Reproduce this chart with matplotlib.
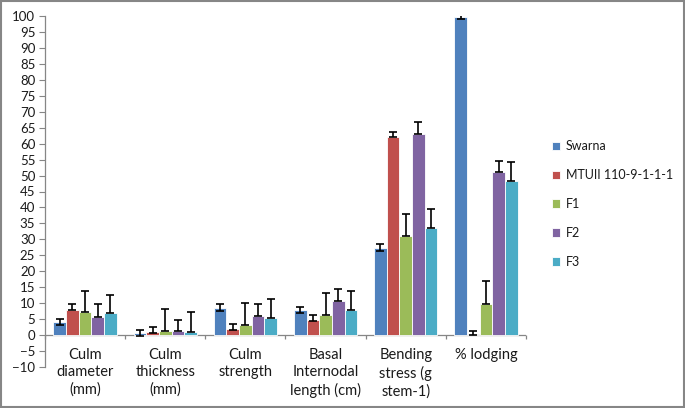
import numpy as np
import matplotlib
matplotlib.use("Agg")
import matplotlib.pyplot as plt
from matplotlib.patches import Rectangle

plt.rcParams['font.family'] = ['Lato', 'DejaVu Sans']

categories = ["Culm\ndiameter\n(mm)", "Culm\nthickness\n(mm)", "Culm\nstrength",
              "Basal\nInternodal\nlength (cm)", "Bending\nstress (g\nstem-1)", "% lodging"]
series = ["Swarna", "MTUII 110-9-1-1-1", "F1", "F2", "F3"]
colors = ["#4F81BD", "#C0504D", "#9BBB59", "#8064A2", "#4BACC6"]

swarna = [4.0, 0.75, 8.6, 7.8, 27.4, 99.7]
mtuii = [8.0, 1.0, 2.0, 4.7, 62.0, 0.0]
f1 = [7.1, 1.25, 3.1, 6.25, 31.0, 9.9]
f2 = [5.8, 1.2, 5.9, 10.6, 63.1, 51.0]
f3 = [6.8, 1.0, 5.2, 8.0, 33.6, 48.2]

swarna_lo = [0.9, 0.95, 0.95, 0.9, 1.0, 0.5]
swarna_hi = [0.9, 0.95, 1.0, 1.0, 1.0, 0.5]
mtuii_lo = [0.0, 0.5, 0.5, 0.3, 0.0, 0.0]
mtuii_hi = [1.6, 1.6, 1.6, 1.7, 1.5, 1.4]
f1_lo = [0, 0, 0, 0, 0, 0]
f1_hi = [6.8, 7.05, 7.0, 6.95, 6.9, 6.9]
f2_lo = [0, 0, 0, 0, 0, 0]
f2_hi = [3.8, 3.6, 3.9, 3.7, 3.8, 3.7]
f3_lo = [0, 0, 0, 0, 0, 0]
f3_hi = [5.9, 6.1, 6.0, 5.9, 6.0, 6.0]

values = [swarna, mtuii, f1, f2, f3]
lows = [swarna_lo, mtuii_lo, f1_lo, f2_lo, f3_lo]
highs = [swarna_hi, mtuii_hi, f1_hi, f2_hi, f3_hi]

fig = plt.figure(figsize=(6.85, 4.08), dpi=100)
ax = fig.add_axes([45/685, 41/408, 481/685, 351/408])

x = np.arange(len(categories))
w = 0.158
for i in range(len(series)):
    pos = x + (i - 2) * w
    ax.bar(pos, values[i], w, color=colors[i], edgecolor="white", linewidth=0.6,
           label=series[i], zorder=2)
    ax.errorbar(pos, values[i], yerr=[lows[i], highs[i]], fmt="none", ecolor="black",
                elinewidth=1.2, capsize=3, capthick=1.2, zorder=3)

grey = "#868686"
ax.set_xlim(-0.5, 5.5)
ax.set_ylim(-10, 100)
ax.set_yticks(np.arange(-10, 101, 5))
ax.tick_params(axis="y", direction="out", length=4, width=0.8, color=grey,
               labelsize=9.5, pad=3, labelcolor="#1a1a1a")
ax.set_xticks([])
for s in ["top", "right", "bottom"]:
    ax.spines[s].set_visible(False)
ax.spines["left"].set_color(grey)
ax.spines["left"].set_linewidth(0.9)
ax.axhline(0, color=grey, linewidth=0.9, zorder=1)
ax.vlines(np.arange(-0.5, 6, 1), -1.3, 0, color=grey, linewidth=0.9, clip_on=False)

for i, lab in enumerate(categories):
    ax.text(x[i], -4.0, lab, ha="center", va="top", fontsize=10.5, linespacing=1.3,
            color="#1a1a1a", clip_on=False)

fig.legend(loc="center left", bbox_to_anchor=(546/685, 0.5), frameon=False,
           fontsize=9, handlelength=0.65, handleheight=0.65, handletextpad=0.45,
           labelspacing=1.35, borderpad=0, labelcolor="#1a1a1a")

fig.patches.append(Rectangle((0.001, 0.002), 0.997, 0.995, transform=fig.transFigure,
                             fill=False, edgecolor=grey, linewidth=1.5))

fig.savefig("out.png", dpi=100)
